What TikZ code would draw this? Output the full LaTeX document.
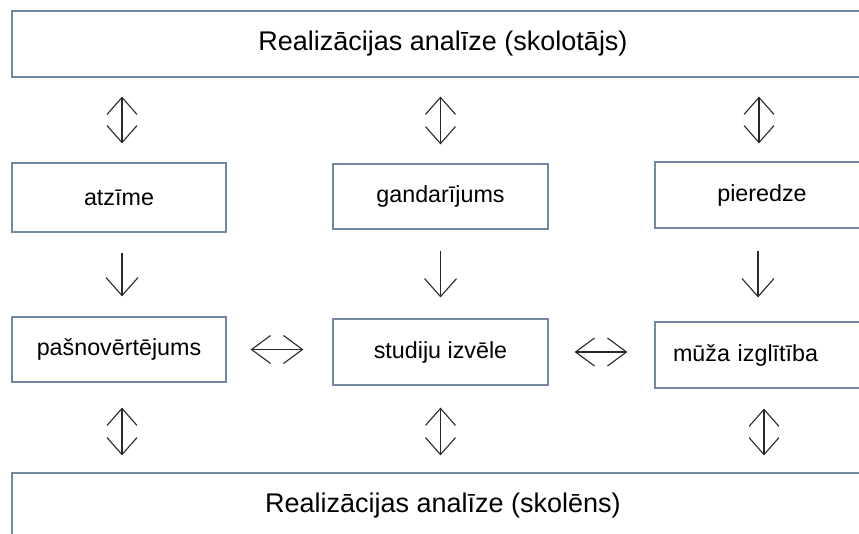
\documentclass[tikz,border=0pt]{standalone}
\usepackage{fontspec}
\setmainfont{Liberation Sans}
\usetikzlibrary{arrows.meta}
\definecolor{boxline}{RGB}{115,134,166}
\definecolor{arrline}{RGB}{40,40,40}

\begin{document}
\begin{tikzpicture}[x=1pt,y=-1pt,
  box/.style={draw=boxline,line width=1.2pt,minimum width=214pt,minimum height=66pt,
              inner sep=0pt,font=\fontsize{23.3}{28}\selectfont},
  wide/.style={box,minimum width=862pt,font=\fontsize{27}{32}\selectfont},
  updown/.style={draw=arrline,line width=1.1pt,{Straight Barb[length=17pt,width=30pt]}-{Straight Barb[length=17pt,width=30pt]}},
  down/.style={draw=arrline,line width=1.1pt,-{Straight Barb[length=18pt,width=32pt]}},
  leftright/.style={draw=arrline,line width=1.1pt,{Straight Barb[length=19pt,width=28pt]}-{Straight Barb[length=19pt,width=28pt]}}]
  \clip (0,0) rectangle (859,533);

% analysis boxes, top and bottom
  \node[wide] (top) at (443,44) {Realizācijas analīze (skolotājs)};
  \node[wide] (bot) at (443,506) {Realizācijas analīze (skolēns)};

% first row
  \node[box,minimum height=69pt] (atz) at (119,197.5) {atzīme};
  \node[box,minimum width=215pt,minimum height=65pt] (gan) at (440.5,196.5) {gandarījums};
  \node[box] (pie) at (762,195) {pieredze};

% second row
  \node[box,minimum height=65pt] (pas) at (119,349.5) {pašnovērtējums};
  \node[box,minimum width=215pt] (stu) at (440.5,352) {studiju izvēle};
  \node[box,text width=178pt,inner xsep=18pt,align=left] (muz) at (762,355) {mūža izglītība};

% top box <-> first row
  \draw[updown,shorten <=19pt,shorten >=19pt] ([xshift=3pt]atz.north |- top.south) -- ([xshift=3pt]atz.north);
  \draw[updown,shorten <=19pt,shorten >=19pt] (gan.north |- top.south) -- (gan.north);
  \draw[updown,shorten <=19pt,shorten >=18pt] ([xshift=-3pt]pie.north |- top.south) -- ([xshift=-3pt]pie.north);

% first row -> second row
  \draw[down,shorten <=20pt,shorten >=20pt] ([xshift=3pt]atz.south) -- ([xshift=3pt]atz.south |- pas.north);
  \draw[down,shorten <=21pt,shorten >=21pt] (gan.south) -- (stu.north);
  \draw[down,shorten <=22pt,shorten >=24pt] ([xshift=-4pt]pie.south) -- ([xshift=-4pt]pie.south |- muz.north);

% second row, side to side
  \draw[leftright,shorten <=24pt,shorten >=29pt] (pas.east) -- (pas.east -| stu.west);
  \draw[leftright,shorten <=26pt,shorten >=27pt] (stu.east) -- (stu.east -| muz.west);

% second row <-> bottom box
  \draw[updown,shorten <=25pt,shorten >=17pt] ([xshift=3pt]pas.south) -- ([xshift=3pt]pas.south |- bot.north);
  \draw[updown,shorten <=22pt,shorten >=17pt] (stu.south) -- (stu.south |- bot.north);
  \draw[updown,shorten <=20pt,shorten >=17pt] ([xshift=2pt]muz.south) -- ([xshift=2pt]muz.south |- bot.north);
\end{tikzpicture}
\end{document}
